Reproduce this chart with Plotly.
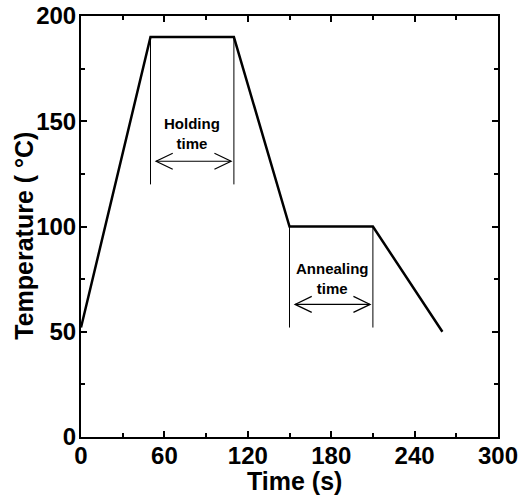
import plotly.graph_objects as go

# Temperature profile (time s, temperature °C)
time_s = [0, 50, 110, 150, 210, 260]
temp_c = [52, 190, 190, 100, 100, 50]

x_ticks = [0, 60, 120, 180, 240, 300]
y_ticks = [0, 50, 100, 150, 200]

# Guide lines: (x, y_bottom, y_top)
holding_guides = [(50, 120, 190), (110, 120, 190)]
annealing_guides = [(150, 52, 100), (210, 52, 100)]

# Double arrows: (x_start, x_end, y)
holding_arrow = (54, 108, 131)
annealing_arrow = (154, 208, 63)

FONT = "Liberation Sans, Arial, sans-serif"

fig = go.Figure()
fig.add_trace(go.Scatter(x=time_s, y=temp_c, mode="lines",
                         line=dict(color="black", width=2.5),
                         showlegend=False, hoverinfo="skip"))

shapes = []
for gx, y0, y1 in holding_guides + annealing_guides:
    shapes.append(dict(type="line", x0=gx, x1=gx, y0=y0, y1=y1,
                       line=dict(color="black", width=1)))

# chevron size in data units (approx 17 px by 8 px)
cdx, cdy = 12.0, 3.8
for xa, xb, ya in [holding_arrow, annealing_arrow]:
    shapes.append(dict(type="line", x0=xa, x1=xb, y0=ya, y1=ya,
                       line=dict(color="black", width=1.2)))
    shapes.append(dict(type="path",
                       path=f"M {xa+cdx},{ya+cdy} L {xa},{ya} L {xa+cdx},{ya-cdy}",
                       line=dict(color="black", width=1.2)))
    shapes.append(dict(type="path",
                       path=f"M {xb-cdx},{ya+cdy} L {xb},{ya} L {xb-cdx},{ya-cdy}",
                       line=dict(color="black", width=1.2)))

title_font = dict(family=FONT, size=25, color="black", weight="bold")
annotations = [
    dict(x=80, y=144, text="Holding<br>time", showarrow=False,
         font=dict(family=FONT, size=15, color="black", weight="bold"),
         xanchor="center", yanchor="middle"),
    dict(x=181, y=75.5, text="Annealing<br>time", showarrow=False,
         font=dict(family=FONT, size=15, color="black", weight="bold"),
         xanchor="center", yanchor="middle"),
    # axis titles
    dict(xref="paper", yref="paper", x=0.511, y=0, yshift=-44,
         text="Time (s)", showarrow=False, font=title_font,
         xanchor="center", yanchor="middle"),
    dict(xref="paper", yref="paper", x=0, y=0.478, xshift=-57,
         text="Temperature ( °C)", textangle=-90, showarrow=False, font=title_font,
         xanchor="center", yanchor="middle"),
]

axis_common = dict(
    showgrid=False, zeroline=False, showline=True, linecolor="black",
    linewidth=2, mirror="ticks", ticks="inside", ticklen=6, tickwidth=1.5,
    tickcolor="black", automargin=False,
    tickfont=dict(family=FONT, size=24, color="black", weight="bold"),
)

fig.update_layout(
    width=519, height=498,
    margin=dict(l=81, r=21, t=16, b=61),
    paper_bgcolor="white", plot_bgcolor="white",
    shapes=shapes, annotations=annotations,
    xaxis=dict(range=[0, 300], tickvals=x_ticks, ticktext=[str(v) for v in x_ticks],
               ticklabelstandoff=-4,
               minor=dict(ticks="inside", ticklen=4, dtick=30, tickcolor="black", tickwidth=1.5),
               **axis_common),
    yaxis=dict(range=[0, 200], tickvals=y_ticks, ticktext=[str(v) for v in y_ticks],
               ticklabelstandoff=-2,
               minor=dict(ticks="inside", ticklen=4, dtick=25, tickcolor="black", tickwidth=1.5),
               **axis_common),
)

fig.write_html("out.html", config={"displayModeBar": False},
               post_script="document.body.style.margin='0';document.body.style.padding='0';")
